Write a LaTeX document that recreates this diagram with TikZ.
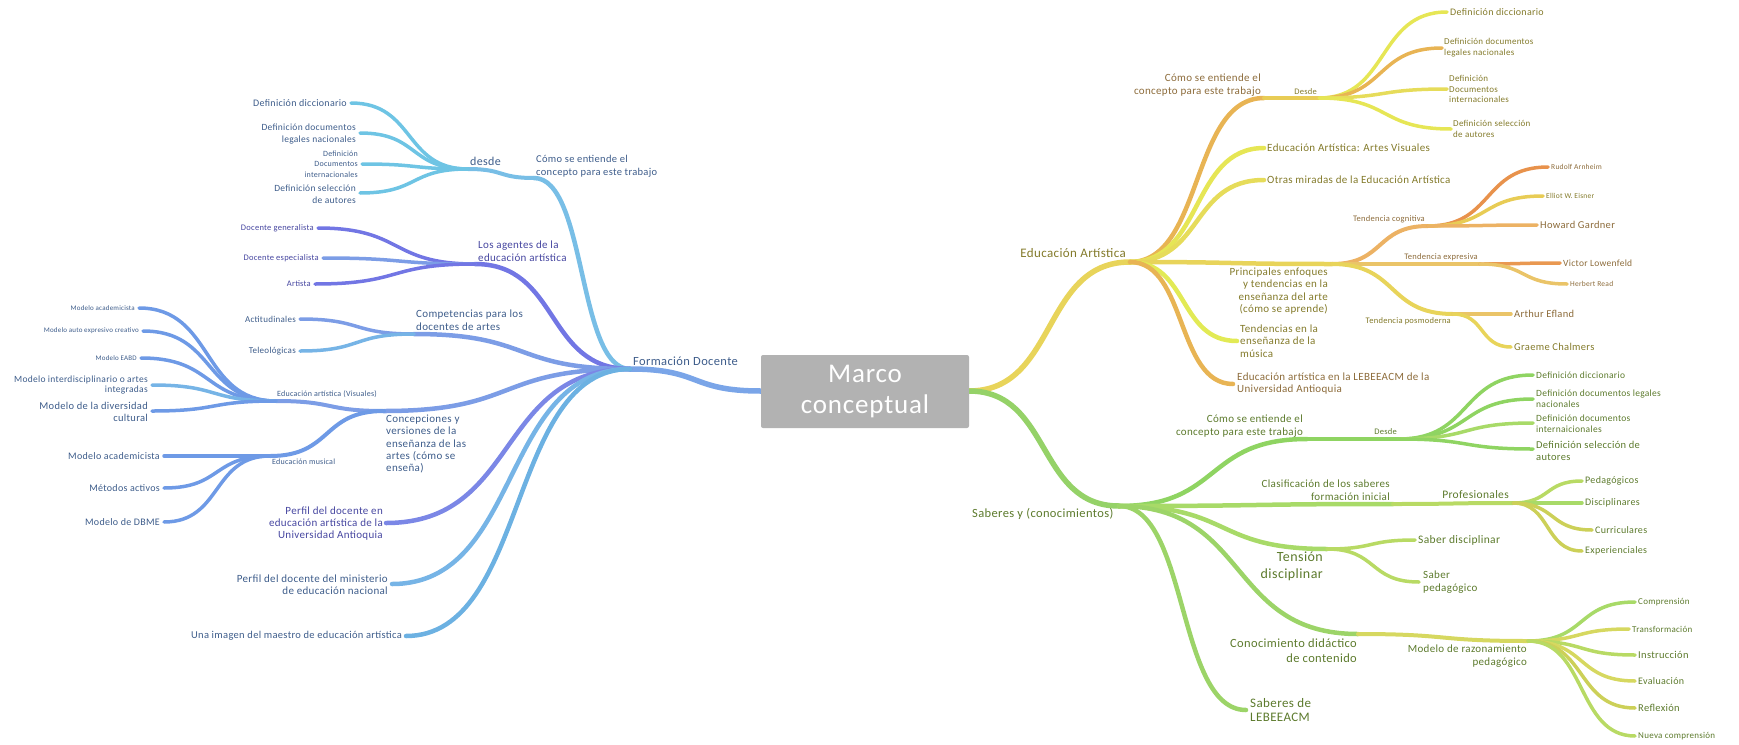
\documentclass[tikz,border=0pt]{standalone}
\usepackage{fontspec}
\setmainfont{Carlito}[LetterSpace=3]
\usetikzlibrary{calc}
% text colours
\definecolor{tb}{HTML}{3D5C8A}
\definecolor{tpu}{HTML}{4646A0}
\definecolor{tol}{HTML}{837A2A}
\definecolor{tbr}{HTML}{8C6B3A}
\definecolor{tgr}{HTML}{5C7A2C}
% line colours
\definecolor{bRoot}{HTML}{7AA5E8}
\definecolor{bLight}{HTML}{78BEE6}
\definecolor{bCyan}{HTML}{6EC4E4}
\definecolor{bPurp}{HTML}{7276E4}
\definecolor{bMid}{HTML}{7C9DE6}
\definecolor{bMid2}{HTML}{6E9AE6}
\definecolor{bSky}{HTML}{76B4E6}
\definecolor{bPU}{HTML}{7B87E6}
\definecolor{bUI}{HTML}{6CB1E2}
\definecolor{yRoot}{HTML}{E8D45A}
\definecolor{yOr}{HTML}{E8B454}
\definecolor{yGold}{HTML}{E8CC55}
\definecolor{yYel}{HTML}{E6E655}
\definecolor{yYel2}{HTML}{E6DC5A}
\definecolor{yLime}{HTML}{E2EA55}
\definecolor{yDk}{HTML}{E8924C}
\definecolor{yPe}{HTML}{ECB264}
\definecolor{yPe2}{HTML}{EAC468}
\definecolor{gRoot}{HTML}{95D268}
\definecolor{gA}{HTML}{8FD462}
\definecolor{gB}{HTML}{A8DA68}
\definecolor{gC}{HTML}{B8DA64}
\definecolor{gD}{HTML}{CCD058}
\definecolor{gE}{HTML}{D6D860}
\definecolor{gF}{HTML}{9CD468}
\tikzset{
  br/.style={line width=#1, line cap=round,
    to path={let \p1=(\tikztostart), \p2=(\tikztotarget) in
      .. controls ({\x1+0.55*(\x2-\x1)},\y1) and ({\x2-0.55*(\x2-\x1)},\y2) .. (\tikztotarget) \tikztonodes}},
  br/.default=4,
  fs/.style 2 args={font=\fontsize{#1}{#2}\selectfont},
  lab/.style={inner sep=0pt, text=#1},
  rootbox/.style={fill=black!30, rounded corners=2pt, minimum width=208pt, minimum height=73pt,
    text=white, inner sep=0pt, align=center, font=\fontsize{27}{31}\selectfont},
}
\begin{document}
\begin{tikzpicture}[x=1pt,y=-1pt]
\useasboundingbox (0,0) rectangle (1739,744);

% ---------- coordinates ----------
\coordinate (fd) at (630,369);
\coordinate (c1) at (534,178);
\coordinate (desde) at (468,169);
\coordinate (l1a) at (351,103);
\coordinate (l1b) at (360,133);
\coordinate (l1c) at (362,164);
\coordinate (l1d) at (360,193);
\coordinate (ag) at (475,264);
\coordinate (ag1) at (318,228);
\coordinate (ag2) at (323,258);
\coordinate (ag3) at (315,284);
\coordinate (comp) at (414,334);
\coordinate (comp1) at (300,319);
\coordinate (comp2) at (300,351);
\coordinate (conc) at (384,411);
\coordinate (vis) at (276,401);
\coordinate (vis1) at (139,308);
\coordinate (vis2) at (143,331);
\coordinate (vis3) at (141,358);
\coordinate (vis4) at (152,385);
\coordinate (vis5) at (152,411);
\coordinate (mus) at (270,456);
\coordinate (mus1) at (164,456);
\coordinate (mus2) at (164,488);
\coordinate (mus3) at (164,522);
\coordinate (pu) at (386,523);
\coordinate (pm) at (392,584);
\coordinate (ui) at (406,636);

\coordinate (ea) at (1130,262);
\coordinate (ea1) at (1264,98);
\coordinate (eaD) at (1319,98);
\coordinate (ead1) at (1447,12);
\coordinate (ead2) at (1442,48);
\coordinate (ead3) at (1447,89);
\coordinate (ead4) at (1451,129);
\coordinate (ea2) at (1264,148);
\coordinate (ea3) at (1264,180);
\coordinate (ea4) at (1332,264);
\coordinate (tc) at (1428,226);
\coordinate (te) at (1480,264);
\coordinate (tp) at (1453,314);
\coordinate (tc1) at (1548,167);
\coordinate (tc2) at (1543,196);
\coordinate (tc3) at (1537,225);
\coordinate (te1) at (1560,263);
\coordinate (te2) at (1567,284);
\coordinate (tp1) at (1511,314);
\coordinate (tp2) at (1511,347);
\coordinate (ea5) at (1237,341);
\coordinate (ea6) at (1233,384);

\coordinate (sy) at (1119,506);
\coordinate (sy1) at (1307,439);
\coordinate (syD) at (1399,439);
\coordinate (syd1) at (1533,375);
\coordinate (syd2) at (1533,399);
\coordinate (syd3) at (1533,423);
\coordinate (syd4) at (1533,449);
\coordinate (sy2) at (1393,504);
\coordinate (pro) at (1513,503);
\coordinate (pro1) at (1582,481);
\coordinate (pro2) at (1582,503);
\coordinate (pro3) at (1592,530);
\coordinate (pro4) at (1582,551);
\coordinate (sy3) at (1327,549);
\coordinate (ts1) at (1415,540);
\coordinate (ts2) at (1419,582);
\coordinate (sy4) at (1358,634);
\coordinate (mr) at (1528,641);
\coordinate (mr1) at (1635,602);
\coordinate (mr2) at (1629,629);
\coordinate (mr3) at (1635,655);
\coordinate (mr4) at (1635,681);
\coordinate (mr5) at (1635,708);
\coordinate (mr6) at (1635,736);
\coordinate (sy5) at (1246,710);

\coordinate (rootL) at (761,391);
\coordinate (rootR) at (969,391);

% ---------- connectors: left ----------
\draw[br=5.5, draw=bRoot] (rootL) to (fd);
\draw[br=4.5, draw=bLight] (fd) to (c1);
\draw[br=4, draw=bLight] (c1) to (desde);
\draw[br=3.5, draw=bCyan] (desde) to (l1a);
\draw[br=3.5, draw=bCyan] (desde) to (l1b);
\draw[br=3.5, draw=bCyan] (desde) to (l1c);
\draw[br=3.5, draw=bCyan] (desde) to (l1d);
\draw[br=4.5, draw=bPurp] (fd) to (ag);
\draw[br=3.5, draw=bPurp] (ag) to (ag1);
\draw[br=3.5, draw=bMid] (ag) to (ag2);
\draw[br=3.5, draw=bPurp] (ag) to (ag3);
\draw[br=4.5, draw=bMid] (fd) to (comp);
\draw[br=3.5, draw=bMid] (comp) to (comp1);
\draw[br=3.5, draw=bSky] (comp) to (comp2);
\draw[br=4.5, draw=bMid] (fd) to (conc);
\draw[br=4, draw=bMid] (conc) to (vis);
\draw[br=4, draw=bMid2] (conc) to (mus);
\draw[br=3.5, draw=bMid2] (vis) to (vis1);
\draw[br=3.5, draw=bMid2] (vis) to (vis2);
\draw[br=3.5, draw=bMid2] (vis) to (vis3);
\draw[br=3.5, draw=bSky] (vis) to (vis4);
\draw[br=3.5, draw=bMid2] (vis) to (vis5);
\draw[br=3.5, draw=bMid2] (mus) to (mus1);
\draw[br=3.5, draw=bMid2] (mus) to (mus2);
\draw[br=3.5, draw=bMid2] (mus) to (mus3);
\draw[br=4.5, draw=bPU] (fd) to (pu);
\draw[br=4.5, draw=bSky] (fd) to (pm);
\draw[br=4.5, draw=bUI] (fd) to (ui);

% ---------- connectors: right top ----------
\draw[br=5.5, draw=yRoot] (rootR) to (ea);
\draw[br=4.5, draw=yOr] (ea) to (ea1);
\draw[br=4, draw=yGold] (ea1) to (eaD);
\draw[br=3.5, draw=yYel] (eaD) to (ead1);
\draw[br=3.5, draw=yOr] (eaD) to (ead2);
\draw[br=3.5, draw=yYel2] (eaD) to (ead3);
\draw[br=3.5, draw=yYel] (eaD) to (ead4);
\draw[br=4.5, draw=yYel] (ea) to (ea2);
\draw[br=4.5, draw=yYel2] (ea) to (ea3);
\draw[br=4.5, draw=yRoot] (ea) to (ea4);
\draw[br=4.5, draw=yLime] (ea) to (ea5);
\draw[br=4.5, draw=yOr] (ea) to (ea6);
\draw[br=4, draw=yPe] (ea4) to (tc);
\draw[br=4, draw=yPe2] (ea4) to (te);
\draw[br=4, draw=yRoot] (ea4) to (tp);
\draw[br=3.5, draw=yDk] (tc) to (tc1);
\draw[br=3.5, draw=yGold] (tc) to (tc2);
\draw[br=3.5, draw=yPe] (tc) to (tc3);
\draw[br=3.5, draw=yDk!80!yPe] (te) to (te1);
\draw[br=3.5, draw=yPe2] (te) to (te2);
\draw[br=3.5, draw=yPe2] (tp) to (tp1);
\draw[br=3.5, draw=yRoot] (tp) to (tp2);

% ---------- connectors: right bottom ----------
\draw[br=5.5, draw=gRoot] (rootR) to (sy);
\draw[br=4.5, draw=gA] (sy) to (sy1);
\draw[br=4, draw=gA] (sy1) to (syD);
\draw[br=3.5, draw=gA] (syD) to (syd1);
\draw[br=3.5, draw=gA] (syD) to (syd2);
\draw[br=3.5, draw=gB] (syD) to (syd3);
\draw[br=3.5, draw=gA] (syD) to (syd4);
\draw[br=4.5, draw=gB] (sy) to (sy2);
\draw[br=4, draw=gC] (sy2) to (pro);
\draw[br=3.5, draw=gC] (pro) to (pro1);
\draw[br=3.5, draw=gB] (pro) to (pro2);
\draw[br=3.5, draw=gD] (pro) to (pro3);
\draw[br=3.5, draw=gD] (pro) to (pro4);
\draw[br=4.5, draw=gB] (sy) to (sy3);
\draw[br=3.5, draw=gC] (sy3) to (ts1);
\draw[br=3.5, draw=gC] (sy3) to (ts2);
\draw[br=4.5, draw=gF] (sy) to (sy4);
\draw[br=4, draw=gE] (sy4) to (mr);
\draw[br=3.5, draw=gB] (mr) to (mr1);
\draw[br=3.5, draw=gE] (mr) to (mr2);
\draw[br=3.5, draw=gC] (mr) to (mr3);
\draw[br=3.5, draw=gE] (mr) to (mr4);
\draw[br=3.5, draw=gD] (mr) to (mr5);
\draw[br=3.5, draw=gC] (mr) to (mr6);
\draw[br=4.5, draw=gF] (sy) to (sy5);

% ---------- root ----------
\node[rootbox] (root) at (865,391.5) {Marco\\conceptual};

% ---------- labels: left ----------
\node[lab=tb, fs={12.5}{14}, anchor=west] (tFD) at (633,361) {Formación Docente};
\node[lab=tb, fs={10.5}{13}, anchor=west, align=left] (tC1) at (536,166) {Cómo se entiende el\\concepto para este trabajo};
\node[lab=tb, fs={12}{14}, anchor=west] (tDesde) at (470,161) {desde};
\node[lab=tb, fs={10}{12}, anchor=east] (tL1a) at ($(l1a)+(-4,0)$) {Definición diccionario};
\node[lab=tb, fs={9.5}{12}, anchor=east, align=right] (tL1b) at ($(l1b)+(-4,1)$) {Definición documentos\\legales nacionales};
\node[lab=tb, fs={8}{10.5}, anchor=east, align=right] (tL1c) at ($(l1c)+(-4,0)$) {Definición\\Documentos\\internacionales};
\node[lab=tb, fs={9.5}{11.5}, anchor=east, align=right] (tL1d) at ($(l1d)+(-4,1)$) {Definición selección\\de autores};

\node[lab=tpu, fs={11}{13}, anchor=west, align=left] (tAg) at (478,251) {Los agentes de la\\educación artística};
\node[lab=tpu, fs={8.5}{10}, anchor=east] (tAg1) at ($(ag1)+(-4,0)$) {Docente generalista};
\node[lab=tpu, fs={8.5}{10}, anchor=east] (tAg2) at ($(ag2)+(-4,0)$) {Docente especialista};
\node[lab=tpu, fs={8.5}{10}, anchor=east] (tAg3) at ($(ag3)+(-4,0)$) {Artista};

\node[lab=tb, fs={11}{13}, anchor=west, align=left] (tComp) at (416,320) {Competencias para los\\docentes de artes};
\node[lab=tb, fs={9}{11}, anchor=east] (tComp1) at ($(comp1)+(-4,0)$) {Actitudinales};
\node[lab=tb, fs={9}{11}, anchor=east] (tComp2) at ($(comp2)+(-4,0)$) {Teleológicas};

\node[lab=tb, fs={11}{12.3}, anchor=west, align=left] (tConc) at (386,444) {Concepciones y\\versiones de la\\enseñanza de las\\artes (cómo se\\enseña)};
\node[lab=tb, fs={8}{10}, anchor=west] (tVis) at (277,394) {Educación artística (Visuales)};
\node[lab=tb, fs={7}{9}, anchor=east] (tVis1) at ($(vis1)+(-4,0)$) {Modelo academicista};
\node[lab=tb, fs={7}{9}, anchor=east] (tVis2) at ($(vis2)+(-4,0)$) {Modelo auto expresivo creativo};
\node[lab=tb, fs={7}{9}, anchor=east] (tVis3) at ($(vis3)+(-4,0)$) {Modelo EABD};
\node[lab=tb, fs={9.5}{10.5}, anchor=east, align=right] (tVis4) at ($(vis4)+(-4,0)$) {Modelo interdisciplinario o artes\\integradas};
\node[lab=tb, fs={10.5}{12.5}, anchor=east, align=right] (tVis5) at ($(vis5)+(-4,1)$) {Modelo de la diversidad\\cultural};
\node[lab=tb, fs={8}{10}, anchor=west] (tMus) at (272,462) {Educación musical};
\node[lab=tb, fs={10}{12}, anchor=east] (tMus1) at ($(mus1)+(-4,0)$) {Modelo academicista};
\node[lab=tb, fs={10}{12}, anchor=east] (tMus2) at ($(mus2)+(-4,0)$) {Métodos activos};
\node[lab=tb, fs={10}{12}, anchor=east] (tMus3) at ($(mus3)+(-4,0)$) {Modelo de DBME};

\node[lab=tpu, fs={11}{12}, anchor=east, align=right] (tPU) at ($(pu)+(-3,1)$) {Perfil del docente en\\educación artística de la\\Universidad Antioquia};
\node[lab=tb, fs={11}{12}, anchor=east, align=right] (tPM) at ($(pm)+(-4,1)$) {Perfil del docente del ministerio\\de educación nacional};
\node[lab=tb, fs={10.5}{12}, anchor=east] (tUI) at ($(ui)+(-4,0)$) {Una imagen del maestro de educación artística};

% ---------- labels: right top ----------
\node[lab=tol, fs={13}{15}, anchor=east] (tEA) at (1126,253) {Educación Artística};
\node[lab=tbr, fs={11}{12.5}, anchor=east, align=right] (tEA1) at (1261,85) {Cómo se entiende el\\concepto para este trabajo};
\node[lab=tol, fs={8.5}{10}, anchor=east] (tEAD) at (1317,92) {Desde};
\node[lab=tol, fs={10}{12}, anchor=west] (tEAd1) at ($(ead1)+(3,0)$) {Definición diccionario};
\node[lab=tol, fs={9}{11}, anchor=west, align=left] (tEAd2) at ($(ead2)+(2,0)$) {Definición documentos\\legales nacionales};
\node[lab=tol, fs={9}{10.5}, anchor=west, align=left] (tEAd3) at ($(ead3)+(2,0)$) {Definición\\Documentos\\internacionales};
\node[lab=tol, fs={9}{10.5}, anchor=west, align=left] (tEAd4) at ($(ead4)+(2,0)$) {Definición selección\\de autores};
\node[lab=tol, fs={11}{13}, anchor=west] (tEA2) at ($(ea2)+(3,0)$) {Educación Artística: Artes Visuales};
\node[lab=tol, fs={11}{13}, anchor=west] (tEA3) at ($(ea3)+(3,0)$) {Otras miradas de la Educación Artística};
\node[lab=tol, fs={11}{12.3}, anchor=east, align=right] (tEA4) at (1328,291) {Principales enfoques\\y tendencias en la\\enseñanza del arte\\(cómo se aprende)};
\node[lab=tbr, fs={8.5}{10}, anchor=east] (tTC) at (1425,219) {Tendencia cognitiva};
\node[lab=tbr, fs={7.5}{9}, anchor=west] (tTC1) at ($(tc1)+(3,0)$) {Rudolf Arnheim};
\node[lab=tol, fs={7.5}{9}, anchor=west] (tTC2) at ($(tc2)+(3,0)$) {Elliot W. Eisner};
\node[lab=tbr, fs={10.5}{12}, anchor=west] (tTC3) at ($(tc3)+(3,0)$) {Howard Gardner};
\node[lab=tbr, fs={8.5}{10}, anchor=east] (tTE) at (1478,257) {Tendencia expresiva};
\node[lab=tbr, fs={9.5}{11}, anchor=west] (tTE1) at ($(te1)+(3,0)$) {Victor Lowenfeld};
\node[lab=tbr, fs={7.5}{9}, anchor=west] (tTE2) at ($(te2)+(3,0)$) {Herbert Read};
\node[lab=tol, fs={8.5}{10}, anchor=east] (tTP) at (1451,321) {Tendencia posmoderna};
\node[lab=tbr, fs={10.5}{12}, anchor=west] (tTP1) at ($(tp1)+(3,0)$) {Arthur Efland};
\node[lab=tol, fs={10.5}{12}, anchor=west] (tTP2) at ($(tp2)+(3,0)$) {Graeme Chalmers};
\node[lab=tol, fs={11}{12.5}, anchor=west, align=left] (tEA5) at ($(ea5)+(3,0)$) {Tendencias en la\\enseñanza de la\\música};
\node[lab=tbr, fs={11}{12}, anchor=west, align=left] (tEA6) at ($(ea6)+(4,0)$) {Educación artística en la LEBEEACM de la\\Universidad Antioquia};

% ---------- labels: right bottom ----------
\node[lab=tgr, fs={12.5}{14}, anchor=west] (tSY) at (972,514) {Saberes y (conocimientos)};
\node[lab=tgr, fs={11}{12.5}, anchor=east, align=right] (tSY1) at (1303,426) {Cómo se entiende el\\concepto para este trabajo};
\node[lab=tgr, fs={8.5}{10}, anchor=east] (tSYD) at (1397,432) {Desde};
\node[lab=tgr, fs={9.5}{11}, anchor=west] (tSYd1) at ($(syd1)+(3,0)$) {Definición diccionario};
\node[lab=tgr, fs={9.5}{11}, anchor=west, align=left] (tSYd2) at ($(syd2)+(3,0)$) {Definición documentos legales\\nacionales};
\node[lab=tgr, fs={9.5}{11}, anchor=west, align=left] (tSYd3) at ($(syd3)+(3,1)$) {Definición documentos\\internaicionales};
\node[lab=tgr, fs={10.5}{12}, anchor=west, align=left] (tSYd4) at ($(syd4)+(3,2)$) {Definición selección de\\autores};
\node[lab=tgr, fs={11}{12.5}, anchor=east, align=right] (tSY2) at (1390,490) {Clasificación de los saberes\\formación inicial};
\node[lab=tgr, fs={11.5}{13}, anchor=east] (tPro) at (1509,495) {Profesionales};
\node[lab=tgr, fs={10}{12}, anchor=west] (tPro1) at ($(pro1)+(3,0)$) {Pedagógicos};
\node[lab=tgr, fs={10}{12}, anchor=west] (tPro2) at ($(pro2)+(3,0)$) {Disciplinares};
\node[lab=tgr, fs={10}{12}, anchor=west] (tPro3) at ($(pro3)+(3,0)$) {Curriculares};
\node[lab=tgr, fs={10}{12}, anchor=west] (tPro4) at ($(pro4)+(3,0)$) {Experienciales};
\node[lab=tgr, fs={14}{17}, anchor=east, align=right] (tSY3) at (1323,566) {Tensión\\disciplinar};
\node[lab=tgr, fs={11.5}{13}, anchor=west] (tTS1) at ($(ts1)+(3,0)$) {Saber disciplinar};
\node[lab=tgr, fs={11}{13}, anchor=west, align=left] (tTS2) at ($(ts2)+(4,0)$) {Saber\\pedagógico};
\node[lab=tgr, fs={12.5}{15}, anchor=east, align=right] (tSY4) at (1357,651) {Conocimiento didáctico\\de contenido};
\node[lab=tgr, fs={11}{13}, anchor=east, align=right] (tMR) at (1527,656) {Modelo de razonamiento\\pedagógico};
\node[lab=tgr, fs={9}{11}, anchor=west] (tMR1) at ($(mr1)+(3,0)$) {Comprensión};
\node[lab=tgr, fs={9}{11}, anchor=west] (tMR2) at ($(mr2)+(3,0)$) {Transformación};
\node[lab=tgr, fs={10.5}{12}, anchor=west] (tMR3) at ($(mr3)+(3,0)$) {Instrucción};
\node[lab=tgr, fs={10}{12}, anchor=west] (tMR4) at ($(mr4)+(3,0)$) {Evaluación};
\node[lab=tgr, fs={10.5}{12}, anchor=west] (tMR5) at ($(mr5)+(3,0)$) {Reflexión};
\node[lab=tgr, fs={9}{11}, anchor=west] (tMR6) at ($(mr6)+(3,0)$) {Nueva comprensión};
\node[lab=tgr, fs={13}{14.5}, anchor=west, align=left] (tSY5) at ($(sy5)+(4,0)$) {Saberes de\\LEBEEACM};
\end{tikzpicture}
\end{document}
